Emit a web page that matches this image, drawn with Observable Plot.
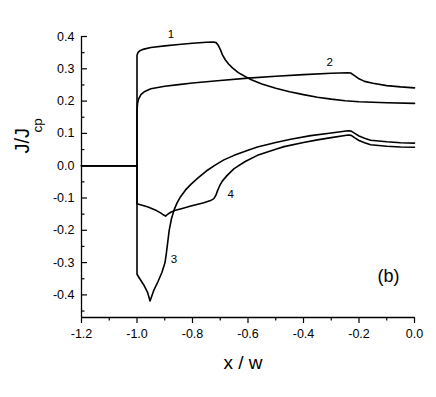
<!DOCTYPE html>
<html><head><meta charset="utf-8">
<script src="https://cdn.jsdelivr.net/npm/d3@7"></script>
<script src="https://cdn.jsdelivr.net/npm/@observablehq/plot@0.6"></script>
<style>body{margin:0;background:#fff} #chart{width:436px;height:397px}</style>
</head><body><div id="chart"></div>
<script>
// Curve 1
const curve1 = [[-1.2,0],[-1.0,0],[-1.0,0.342],[-0.996,0.351],[-0.988,0.357],[-0.975,0.361],[-0.95,0.366],[-0.9,0.371],[-0.85,0.375],[-0.8,0.379],[-0.75,0.382],[-0.725,0.383],[-0.715,0.381],[-0.708,0.374],[-0.7,0.360],[-0.692,0.343],[-0.682,0.328],[-0.67,0.315],[-0.655,0.302],[-0.635,0.288],[-0.61,0.276],[-0.59,0.267],[-0.55,0.253],[-0.5,0.240],[-0.45,0.229],[-0.4,0.220],[-0.35,0.212],[-0.3,0.206],[-0.25,0.201],[-0.2,0.198],[-0.1,0.195],[0,0.193]];
// Curve 2
const curve2 = [[-1.2,0],[-1.0,0],[-1.0,0.17],[-0.998,0.193],[-0.994,0.207],[-0.986,0.220],[-0.972,0.230],[-0.95,0.238],[-0.9,0.246],[-0.85,0.251],[-0.8,0.256],[-0.7,0.264],[-0.6,0.271],[-0.5,0.277],[-0.4,0.282],[-0.3,0.286],[-0.24,0.288],[-0.23,0.287],[-0.215,0.278],[-0.2,0.269],[-0.18,0.261],[-0.15,0.255],[-0.1,0.248],[-0.05,0.244],[0,0.241]];
// Curve 3
const curve3 = [[-1.2,0],[-1.0,0],[-1.0,-0.336],[-0.99,-0.350],[-0.975,-0.370],[-0.962,-0.392],[-0.953,-0.419],[-0.94,-0.387],[-0.925,-0.360],[-0.91,-0.330],[-0.899,-0.300],[-0.894,-0.270],[-0.889,-0.235],[-0.884,-0.200],[-0.876,-0.165],[-0.866,-0.136],[-0.856,-0.116],[-0.843,-0.096],[-0.825,-0.075],[-0.806,-0.058],[-0.78,-0.038],[-0.746,-0.014],[-0.72,0.001],[-0.687,0.018],[-0.65,0.032],[-0.6,0.048],[-0.566,0.058],[-0.5,0.072],[-0.446,0.082],[-0.374,0.093],[-0.3,0.101],[-0.24,0.108],[-0.228,0.107],[-0.215,0.100],[-0.2,0.092],[-0.18,0.085],[-0.158,0.079],[-0.1,0.074],[-0.05,0.071],[0,0.070]];
// Curve 4
const curve4 = [[-1.2,0],[-1.0,0],[-1.0,-0.118],[-0.96,-0.128],[-0.93,-0.139],[-0.915,-0.146],[-0.905,-0.152],[-0.897,-0.156],[-0.89,-0.151],[-0.88,-0.145],[-0.862,-0.138],[-0.84,-0.133],[-0.806,-0.125],[-0.759,-0.115],[-0.735,-0.108],[-0.723,-0.102],[-0.716,-0.092],[-0.71,-0.078],[-0.702,-0.062],[-0.692,-0.047],[-0.675,-0.030],[-0.65,-0.009],[-0.61,0.013],[-0.566,0.032],[-0.5,0.051],[-0.47,0.059],[-0.4,0.072],[-0.35,0.080],[-0.3,0.087],[-0.239,0.095],[-0.228,0.094],[-0.215,0.086],[-0.2,0.078],[-0.18,0.071],[-0.158,0.065],[-0.1,0.060],[-0.05,0.058],[0,0.057]];

const xTicks = [-1.2,-1.0,-0.8,-0.6,-0.4,-0.2,0.0];
const xMinor = [-1.1,-0.9,-0.7,-0.5,-0.3,-0.1];
const yTicks = [-0.4,-0.3,-0.2,-0.1,0.0,0.1,0.2,0.3,0.4];
const yMinor = [-0.45,-0.35,-0.25,-0.15,-0.05,0.05,0.15,0.25,0.35];
const curveLabels = [{x:-0.878,y:0.407,t:"1"},{x:-0.306,y:0.321,t:"2"},{x:-0.867,y:-0.290,t:"3"},{x:-0.662,y:-0.090,t:"4"}];
const panelLabel = [{x:-0.094,y:-0.343,t:"(b)"}];
const xLabel = "x / w";
const yLabelMain = "J/J";
const yLabelSub = "cp";

const series = [curve1,curve2,curve3,curve4].flatMap((c,i)=>c.map(([x,y])=>({x,y,id:i+1})));
const fmt = d => d.toFixed(1);

const plot = Plot.plot({
  width:436, height:397,
  marginLeft:81, marginRight:22, marginTop:36, marginBottom:80,
  x:{domain:[-1.2,0]},
  y:{domain:[-0.47,0.4]},
  style:{fontFamily:"'Liberation Sans', Arial, sans-serif", fontSize:"12.5px", color:"#000", background:"#fff"},
  marks:[
    Plot.axisX({ticks:xTicks, tickSize:6, tickPadding:6, tickFormat:fmt, label:null, fontSize:12.5, strokeWidth:1.2}),
    Plot.axisX({ticks:xMinor, tickSize:3.5, tickFormat:()=>"", label:null, strokeWidth:1.2}),
    Plot.axisY({ticks:yTicks, tickSize:-6, tickPadding:13, tickFormat:fmt, label:null, fontSize:12.5, strokeWidth:1.2}),
    Plot.axisY({ticks:yMinor, tickSize:-3.5, tickFormat:()=>"", label:null, strokeWidth:1.2}),
    Plot.ruleX([-1.2],{strokeWidth:1.3}),
    Plot.ruleY([-0.47],{strokeWidth:1.3}),
    Plot.line(series,{x:"x", y:"y", z:"id", stroke:"#000", strokeWidth:1.6}),
    Plot.text(curveLabels,{x:"x", y:"y", text:"t", fontSize:11.5}),
    Plot.text(panelLabel,{x:"x", y:"y", text:"t", fontSize:18}),
    Plot.text([xLabel],{text:d=>d, frameAnchor:"bottom", lineAnchor:"middle", dy:45, dx:-5, fontSize:19}),
    Plot.text([yLabelMain],{text:d=>d, frameAnchor:"left", rotate:-90, lineAnchor:"middle", dx:-59, dy:-23.5, fontSize:20}),
    Plot.text([yLabelSub],{text:d=>d, frameAnchor:"left", rotate:-90, lineAnchor:"middle", dx:-44, dy:-44.5, fontSize:13.5})
  ]
});
document.getElementById("chart").appendChild(plot);
</script>
</body></html>
